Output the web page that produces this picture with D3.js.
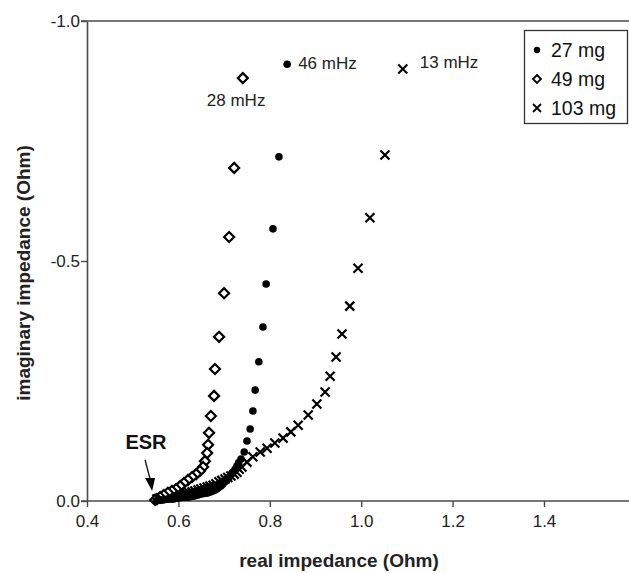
<!DOCTYPE html>
<html>
<head>
<meta charset="utf-8">
<script src="https://cdn.jsdelivr.net/npm/d3@7"></script>
<style>
  body { margin: 0; background: #fff; }
  svg { display: block; font-family: "Liberation Sans", Arial, sans-serif; }
</style>
</head>
<body>
<svg id="chart" width="629" height="573"></svg>
<script>
// Nyquist plot: real vs imaginary impedance for three electrode loadings
const seriesNames = ["27 mg", "49 mg", "103 mg"];

const re27 = [0.838, 0.820, 0.807, 0.792, 0.785, 0.776, 0.768, 0.763, 0.757, 0.750, 0.744, 0.737,
  0.732, 0.728, 0.724, 0.719, 0.715, 0.711, 0.706, 0.702, 0.697, 0.693, 0.688, 0.684, 0.680, 0.676,
  0.670, 0.665, 0.660, 0.654, 0.648, 0.643, 0.637, 0.632, 0.626, 0.621, 0.615, 0.610, 0.604, 0.599,
  0.593, 0.588, 0.582, 0.577, 0.571, 0.566, 0.562, 0.558, 0.554, 0.551];
const im27 = [-0.910, -0.717, -0.567, -0.452, -0.3625, -0.290, -0.231, -0.1875, -0.150, -0.125, -0.102, -0.0875,
  -0.080, -0.073, -0.066, -0.060, -0.055, -0.050, -0.045, -0.040, -0.035, -0.031, -0.028, -0.025, -0.023, -0.021,
  -0.019, -0.017, -0.016, -0.015, -0.014, -0.0125, -0.011, -0.010, -0.009, -0.008, -0.008, -0.008, -0.007, -0.006,
  -0.005, -0.004, -0.004, -0.004, -0.003, -0.002, -0.002, -0.002, -0.001, 0.000];

const re49 = [0.741, 0.722, 0.711, 0.700, 0.689, 0.680, 0.678, 0.671, 0.667, 0.665, 0.663, 0.658, 0.654,
  0.647, 0.639, 0.630, 0.621, 0.612, 0.604, 0.595, 0.586, 0.577, 0.568, 0.560, 0.553, 0.549];
const im49 = [-0.881, -0.694, -0.550, -0.433, -0.342, -0.275, -0.219, -0.177, -0.142, -0.117, -0.100, -0.083, -0.071,
  -0.0625, -0.056, -0.050, -0.044, -0.0375, -0.031, -0.025, -0.021, -0.017, -0.0125, -0.008, -0.004, -0.002];

const re103 = [1.091, 1.052, 1.019, 0.993, 0.975, 0.958, 0.945, 0.932, 0.921, 0.903, 0.884, 0.862, 0.846,
  0.829, 0.811, 0.794, 0.779, 0.763, 0.750, 0.739, 0.733, 0.728, 0.722, 0.715, 0.708, 0.702, 0.695,
  0.689, 0.682, 0.676, 0.669, 0.663, 0.656, 0.649, 0.643, 0.636, 0.630, 0.623, 0.616, 0.610, 0.603,
  0.597, 0.590, 0.584, 0.578, 0.573, 0.567, 0.562, 0.557, 0.553];
const im103 = [-0.900, -0.721, -0.590, -0.485, -0.406, -0.348, -0.300, -0.260, -0.227, -0.202, -0.179, -0.158, -0.144,
  -0.131, -0.121, -0.110, -0.102, -0.092, -0.081, -0.071, -0.066, -0.060, -0.056, -0.052, -0.049, -0.046, -0.043,
  -0.040, -0.036, -0.033, -0.031, -0.029, -0.027, -0.025, -0.023, -0.021, -0.019, -0.017, -0.016, -0.015, -0.014,
  -0.0125, -0.011, -0.010, -0.009, -0.008, -0.007, -0.006, -0.005, -0.004];

// frequency of the lowest-frequency point of each series
const freqLabels = ["46 mHz", "28 mHz", "13 mHz"];

const xTicks = [0.4, 0.6, 0.8, 1.0, 1.2, 1.4];
const yTicks = [0.0, -0.5, -1.0];

const svg = d3.select("#chart");
const x = d3.scaleLinear().domain([0.4, 1.6]).range([87, 635.4]);
const y = d3.scaleLinear().domain([0, -1]).range([501, 21]);
const axisColor = "#4a4a4a";
const fmt = v => d3.format(".1f")(v).replace("\u2212", "-");

// top frame line
svg.append("line")
  .attr("x1", 81).attr("x2", 629)
  .attr("y1", y(-1)).attr("y2", y(-1))
  .attr("stroke", axisColor).attr("stroke-width", 1.6);

const xAxis = svg.append("g")
  .attr("transform", `translate(0,${y(0)})`)
  .call(d3.axisBottom(x).tickValues(xTicks).tickSize(6).tickSizeOuter(0).tickFormat(fmt));
const yAxis = svg.append("g")
  .attr("transform", `translate(${x(0.4)},0)`)
  .call(d3.axisLeft(y).tickValues(yTicks).tickSize(6).tickSizeOuter(0).tickFormat(fmt));

[xAxis, yAxis].forEach(g => {
  g.select(".domain").attr("stroke", axisColor).attr("stroke-width", 1.6);
  g.selectAll(".tick line").attr("stroke", axisColor).attr("stroke-width", 1.4);
  g.selectAll(".tick text").attr("fill", "#222").attr("font-size", 17)
    .attr("font-family", "Liberation Sans, Arial, sans-serif");
});
xAxis.select(".domain").attr("d", `M${x(0.4) - 6},0H629`);
xAxis.selectAll(".tick text").attr("y", 10).attr("dy", "0.95em");
yAxis.selectAll(".tick text").attr("x", -7);

// axis titles
svg.append("text")
  .attr("x", 339).attr("y", 567)
  .attr("text-anchor", "middle")
  .attr("font-size", 19).attr("font-weight", "bold").attr("fill", "#222")
  .text("real impedance (Ohm)");
svg.append("text")
  .attr("transform", `translate(30,273) rotate(-90)`)
  .attr("text-anchor", "middle")
  .attr("font-size", 19).attr("font-weight", "bold").attr("fill", "#222")
  .text("imaginary impedance (Ohm)");

// markers
const toPts = (re, im) => re.map((v, i) => ({ re: v, im: im[i] }));
const dots = toPts(re27, im27);
const diamonds = toPts(re49, im49);
const crosses = toPts(re103, im103);

const plot = svg.append("g");

const diamondPath = s => `M0,${-s}L${s},0L0,${s}L${-s},0Z`;
const crossPath = s => `M${-s},${-s}L${s},${s}M${-s},${s}L${s},${-s}`;

plot.selectAll(".m103").data(crosses).join("path")
  .attr("class", "m103")
  .attr("transform", d => `translate(${x(d.re)},${y(d.im)})`)
  .attr("d", crossPath(4.5))
  .attr("stroke", "#000").attr("stroke-width", 2.2).attr("fill", "none");

plot.selectAll(".m49").data(diamonds).join("path")
  .attr("class", "m49")
  .attr("transform", d => `translate(${x(d.re)},${y(d.im)})`)
  .attr("d", diamondPath(5))
  .attr("stroke", "#000").attr("stroke-width", 2.2).attr("fill", "#fff");

plot.selectAll(".m27").data(dots).join("circle")
  .attr("class", "m27")
  .attr("cx", d => x(d.re)).attr("cy", d => y(d.im))
  .attr("r", 3.8).attr("fill", "#000");

// frequency labels on the last points
const lastPts = [dots[0], diamonds[0], crosses[0]];
const labelOffsets = [[11, 5], [-36, 28], [17, -1]];
lastPts.forEach((p, i) => {
  svg.append("text")
    .attr("x", x(p.re) + labelOffsets[i][0])
    .attr("y", y(p.im) + labelOffsets[i][1])
    .attr("font-size", 17).attr("fill", "#222")
    .text(freqLabels[i]);
});

// ESR annotation with arrow to the high-frequency intercept
const esr = { re: re49[re49.length - 1], im: 0 };
svg.append("text")
  .attr("x", 146).attr("y", 449)
  .attr("text-anchor", "middle")
  .attr("font-size", 20).attr("font-weight", "bold").attr("fill", "#111")
  .text("ESR");
const tipX = x(esr.re) - 3, tipY = y(esr.im) - 10;
svg.append("line")
  .attr("x1", tipX - 7).attr("y1", 460)
  .attr("x2", tipX - 1.5).attr("y2", tipY - 10)
  .attr("stroke", "#111").attr("stroke-width", 1.3);
svg.append("path")
  .attr("d", `M${tipX},${tipY}L${tipX - 7},${tipY - 13}L${tipX + 3},${tipY - 13}Z`)
  .attr("fill", "#000");

// legend
const legend = svg.append("g");
legend.append("rect")
  .attr("x", 524.5).attr("y", 30.5).attr("width", 103).attr("height", 93)
  .attr("fill", "#fff").attr("stroke", "#333").attr("stroke-width", 1.3);
const ly = [50, 79, 108];
seriesNames.forEach((name, i) => {
  const cx = 537, cy = ly[i];
  if (i === 0) legend.append("circle").attr("cx", cx).attr("cy", cy).attr("r", 3.2).attr("fill", "#000");
  if (i === 1) legend.append("path").attr("transform", `translate(${cx},${cy})`).attr("d", diamondPath(4))
    .attr("stroke", "#000").attr("stroke-width", 1.8).attr("fill", "#fff");
  if (i === 2) legend.append("path").attr("transform", `translate(${cx},${cy})`).attr("d", crossPath(4))
    .attr("stroke", "#000").attr("stroke-width", 1.8).attr("fill", "none");
  legend.append("text")
    .attr("x", 551).attr("y", cy + 6.5)
    .attr("font-size", 19.5).attr("fill", "#111")
    .text(name);
});
</script>
</body>
</html>
